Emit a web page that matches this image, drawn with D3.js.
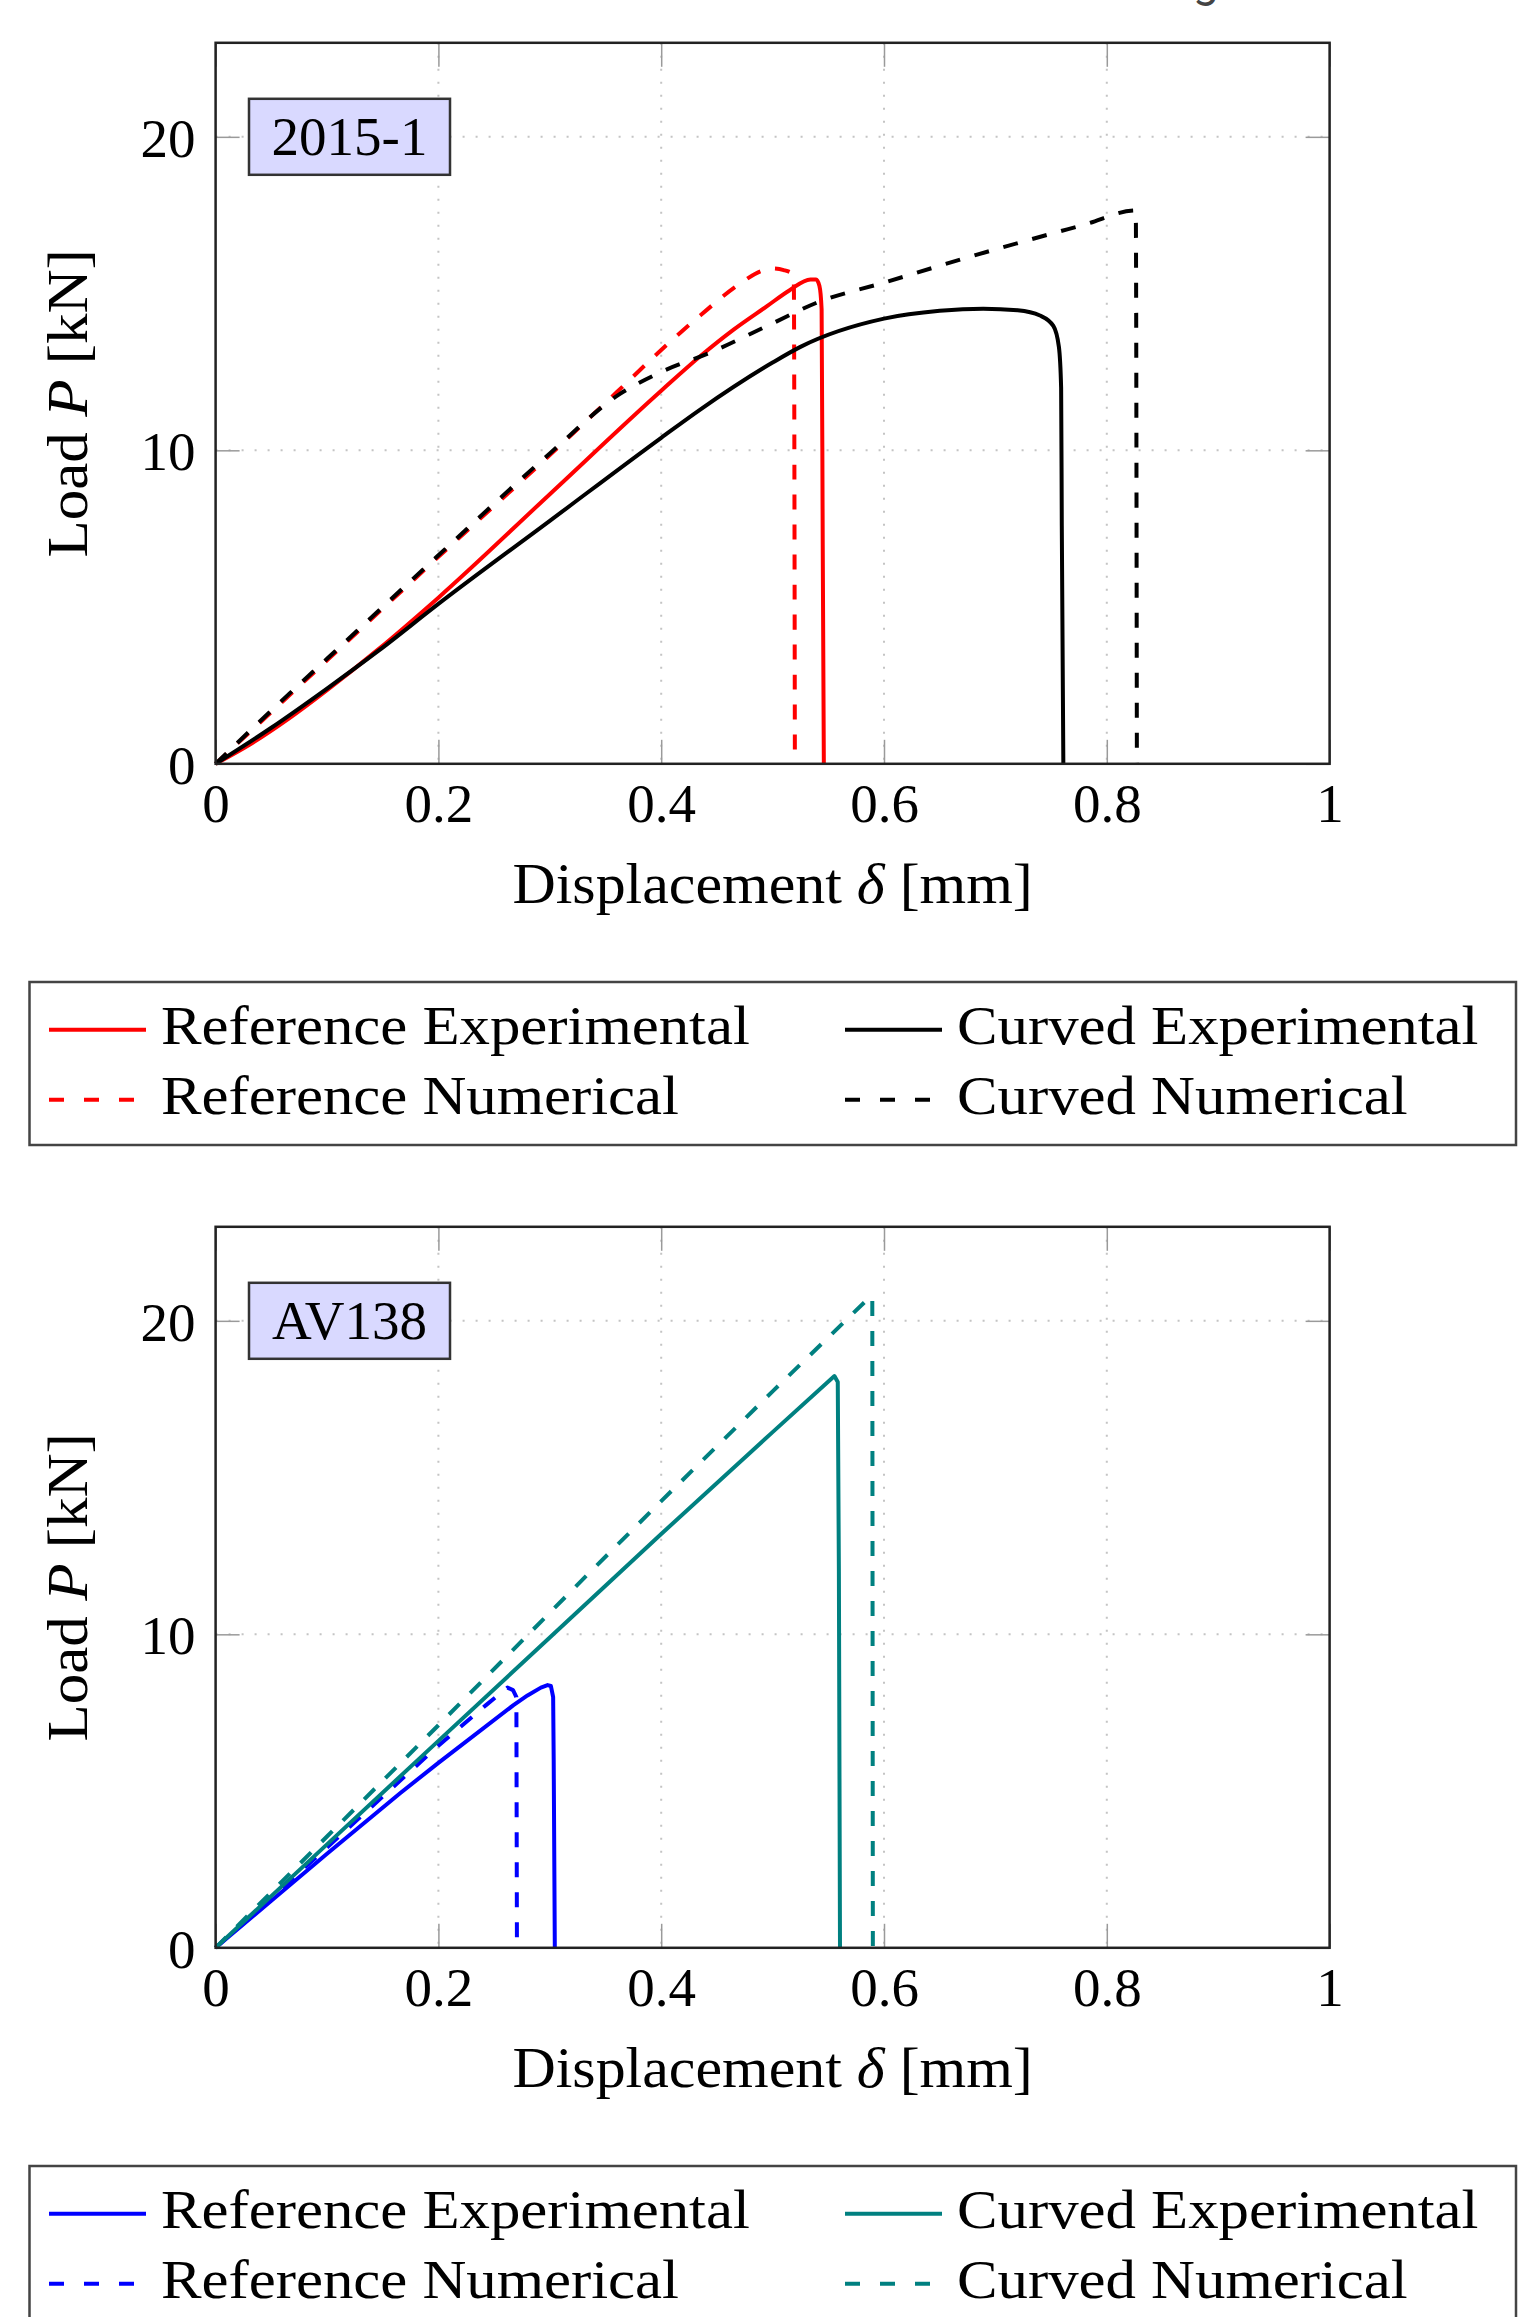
<!DOCTYPE html>
<html>
<head>
<meta charset="utf-8">
<script src="https://cdn.jsdelivr.net/npm/d3@7"></script>
<style>
  body { margin: 0; background: #fff; }
  svg { display: block; }
  text { font-family: "Liberation Serif", "Times New Roman", serif; fill: #000; }
</style>
</head>
<body>
<div id="chart"></div>
<script>
// values: [displacement δ (mm), load P (kN)]
const xTicks = [0, 0.2, 0.4, 0.6, 0.8, 1];
const yTicks = [0, 10, 20];
const seriesNames = ["Reference Experimental", "Reference Numerical", "Curved Experimental", "Curved Numerical"];
const seriesDashed = [false, true, false, true];

// 2015-1
const refExp2015 = [[0,0],[0.03,0.6],[0.066,1.45],[0.1,2.35],[0.146,3.65],[0.2,5.3],[0.3,8.6],[0.4,11.9],[0.435,13.0],[0.465,13.85],[0.495,14.6],[0.515,15.1],[0.534,15.45],[0.539,15.45],[0.542,15.25],[0.544,14.5],[0.545,7],[0.546,0]];
const refNum2015 = [[0,0],[0.05,1.65],[0.1,3.3],[0.2,6.6],[0.3,9.85],[0.36,11.85],[0.4,13.2],[0.435,14.3],[0.47,15.3],[0.49,15.72],[0.5,15.8],[0.51,15.75],[0.519,15.6],[0.52,0]];
const curExp2015 = [[0,0],[0.05,1.15],[0.1,2.4],[0.146,3.6],[0.2,5.1],[0.3,7.75],[0.4,10.4],[0.435,11.3],[0.5,12.8],[0.525,13.3],[0.6,14.2],[0.65,14.45],[0.689,14.52],[0.72,14.47],[0.74,14.3],[0.752,13.97],[0.757,13.3],[0.759,12],[0.7596,7.6],[0.761,0]];
const curNum2015 = [[0,0],[0.05,1.7],[0.1,3.35],[0.2,6.65],[0.3,9.9],[0.363,11.8],[0.4,12.5],[0.444,13.12],[0.5,14.05],[0.539,14.7],[0.6,15.35],[0.67,16.1],[0.734,16.75],[0.78,17.2],[0.826,17.65],[0.827,0]];

// AV138
const refExpAV = [[0,0],[0.05,1.5],[0.1,3.0],[0.1656,4.93],[0.2,5.9],[0.2674,7.74],[0.28,8.05],[0.292,8.3],[0.298,8.38],[0.301,8.35],[0.303,8.0],[0.3035,6],[0.3045,0]];
const refNumAV = [[0,0],[0.05,1.6],[0.1,3.2],[0.2,6.45],[0.243,7.75],[0.262,8.3],[0.267,8.22],[0.27,8.0],[0.2705,0]];
const curExpAV = [[0,0],[0.1,3.3],[0.2,6.6],[0.3,9.9],[0.4,13.2],[0.5,16.45],[0.5555,18.24],[0.5585,18.05],[0.5595,12],[0.5605,0]];
const curNumAV = [[0,0],[0.1,3.55],[0.2,7.1],[0.3332,11.88],[0.4,14.25],[0.5,17.75],[0.5885,20.8],[0.5895,20.65],[0.59,0]];

const panels = [
  { label: "2015-1", top: 42.8, colors: ["#ff0000", "#ff0000", "#000000", "#000000"],
    curve: d3.curveMonotoneX,
    series: [refExp2015, refNum2015, curExp2015, curNum2015] },
  { label: "AV138", top: 1226.8, colors: ["#0000ff", "#0000ff", "#008080", "#008080"],
    curve: d3.curveLinear,
    series: [refExpAV, refNumAV, curExpAV, curNumAV] }
];

const W = 1532, H = 2317;
const plotH = 721;
const tickLen = 24;

const svg = d3.select("#chart").append("svg")
  .attr("width", W)
  .attr("height", H);

// cut-off caption glyph at the very top (only its descender shows in the reference)
svg.append("text")
  .attr("x", 1193).attr("y", -3)
  .style("font-family", "Roboto, sans-serif")
  .style("font-size", "46px")
  .style("fill", "#444")
  .text("g");

const x = d3.scaleLinear().domain([0, 1]).range([215.6, 1329.6]);
const y = d3.scaleLinear().domain([0, 23]).range([plotH, 0]);

// CM is a bit wider than Liberation Serif, stretch long labels
function widen(sel, k) {
  sel.each(function() {
    const len = this.getComputedTextLength();
    d3.select(this).attr("textLength", len * k).attr("lengthAdjust", "spacingAndGlyphs");
  });
}

panels.forEach(p => {
  const g = svg.append("g").attr("transform", `translate(0,${p.top})`);

  const line = d3.line()
    .x(d => x(d[0]))
    .y(d => y(d[1]))
    .curve(p.curve);

  // dotted grid
  g.append("g").selectAll("line.gx")
    .data(xTicks.filter(t => t > 0 && t < 1))
    .join("line")
    .attr("x1", d => x(d)).attr("x2", d => x(d))
    .attr("y1", 0).attr("y2", plotH)
    .attr("stroke", "#c4c4c4").attr("stroke-width", 2)
    .attr("stroke-dasharray", "2,11");
  g.append("g").selectAll("line.gy")
    .data(yTicks.filter(t => t > 0))
    .join("line")
    .attr("x1", x(0)).attr("x2", x(1))
    .attr("y1", d => y(d)).attr("y2", d => y(d))
    .attr("stroke", "#c4c4c4").attr("stroke-width", 2)
    .attr("stroke-dasharray", "2,11");

  // ticks on all four sides
  const bottom = g.append("g")
    .attr("transform", `translate(0,${plotH})`)
    .call(d3.axisBottom(x).tickValues(xTicks).tickSize(-tickLen).tickFormat(d => String(d)));
  bottom.selectAll("text").attr("y", 58).attr("dy", null).style("font-size", "55px");

  const left = g.append("g")
    .attr("transform", `translate(${x(0)},0)`)
    .call(d3.axisLeft(y).tickValues(yTicks).tickSize(-tickLen).tickPadding(20).tickFormat(d => String(d)));
  left.selectAll("text").attr("dy", "0.35em").style("font-size", "55px");

  g.append("g").call(d3.axisTop(x).tickValues(xTicks).tickSize(-tickLen).tickFormat(""));
  g.append("g")
    .attr("transform", `translate(${x(1)},0)`)
    .call(d3.axisRight(y).tickValues(yTicks).tickSize(-tickLen).tickFormat(""));

  g.selectAll(".domain").remove();
  g.selectAll(".tick line").attr("stroke", "#9a9a9a").attr("stroke-width", 1.5);
  g.selectAll(".tick text").style("font-family", '"Liberation Serif", serif').attr("fill", "#000");

  // curves
  p.series.forEach((s, i) => {
    g.append("path")
      .datum(s)
      .attr("d", line)
      .attr("fill", "none")
      .attr("stroke", p.colors[i])
      .attr("stroke-width", 4)
      .attr("stroke-linejoin", "round")
      .attr("stroke-dasharray", seriesDashed[i] ? "15,15" : null);
  });

  // frame
  g.append("rect")
    .attr("x", x(0)).attr("y", 0)
    .attr("width", x(1) - x(0)).attr("height", plotH)
    .attr("fill", "none").attr("stroke", "#222").attr("stroke-width", 2.5);

  // specimen tag
  g.append("rect")
    .attr("x", 249).attr("y", 56)
    .attr("width", 201).attr("height", 76)
    .attr("fill", "#d9d9ff").attr("stroke", "#333").attr("stroke-width", 2.5);
  g.append("text")
    .attr("x", 349.5).attr("y", 112.5)
    .attr("text-anchor", "middle")
    .style("font-size", "55px")
    .text(p.label);

  // axis titles
  const xt = g.append("text")
    .attr("x", (x(0) + x(1)) / 2).attr("y", 860.5)
    .attr("text-anchor", "middle")
    .style("font-size", "56px");
  xt.append("tspan").text("Displacement ");
  xt.append("tspan").style("font-style", "italic").text("δ");
  xt.append("tspan").text(" [mm]");
  widen(xt, 1.07);

  const yt = g.append("text")
    .attr("transform", `translate(87,${plotH / 2}) rotate(-90)`)
    .attr("text-anchor", "middle")
    .style("font-size", "56px");
  yt.append("tspan").text("Load ");
  yt.append("tspan").style("font-style", "italic").text("P");
  yt.append("tspan").text(" [kN]");
  widen(yt, 1.09);

  // legend
  const lg = g.append("g").attr("transform", "translate(0,939.2)");
  lg.append("rect")
    .attr("x", 29.5).attr("y", 0)
    .attr("width", 1486.5).attr("height", 163)
    .attr("fill", "#fff").attr("stroke", "#444").attr("stroke-width", 2.5);

  const colX = [49, 845];
  const rowY = [61.8, 131.8];
  seriesNames.forEach((name, i) => {
    const cx = colX[Math.floor(i / 2)];
    const ry = rowY[i % 2];
    lg.append("line")
      .attr("x1", cx).attr("x2", cx + 97)
      .attr("y1", ry - 14).attr("y2", ry - 14)
      .attr("stroke", p.colors[i])
      .attr("stroke-width", 4)
      .attr("stroke-dasharray", seriesDashed[i] ? "15,20" : null);
    const t = lg.append("text")
      .attr("x", cx + 112).attr("y", ry)
      .style("font-size", "55px")
      .text(name);
    widen(t, 1.105);
  });
});
</script>
</body>
</html>
